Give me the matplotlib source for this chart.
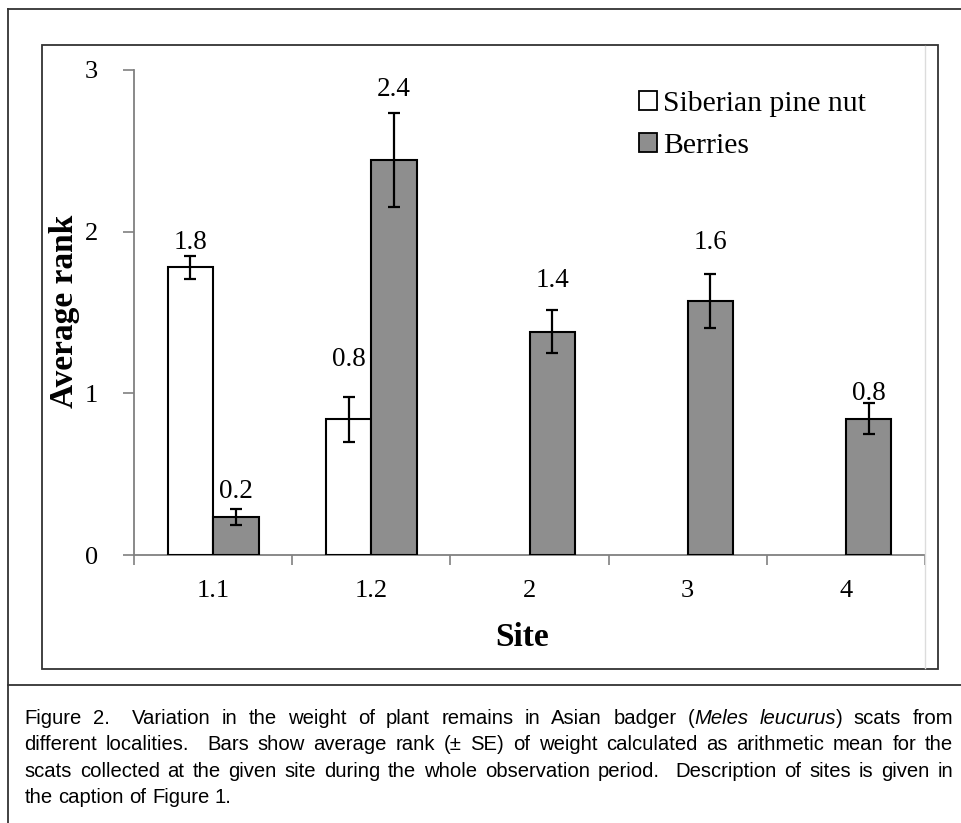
import numpy as np
import matplotlib
matplotlib.use("Agg")
import matplotlib.pyplot as plt
from matplotlib.lines import Line2D
from matplotlib.patches import Rectangle, Patch

# data
sites = ["1.1", "1.2", "2", "3", "4"]
pine_nut = [1.78, 0.84, 0, 0, 0]
pine_nut_se = [0.07, 0.138, 0, 0, 0]
berries = [0.237, 2.443, 1.381, 1.573, 0.843]
berries_se = [0.05, 0.29, 0.132, 0.167, 0.095]
series_names = ["Siberian pine nut", "Berries"]
y_ticks = [0, 1, 2, 3]

caption_lines = [
    "Figure 2.  Variation in the weight of plant remains in Asian badger (*Meles* *leucurus*) scats from",
    "different localities.  Bars show average rank (\u00b1 SE) of weight calculated as arithmetic mean for the",
    "scats collected at the given site during the whole observation period.  Description of sites is given in",
    "the caption of Figure 1.",
]

# where the value labels sit (data units), as placed by hand in the original
pine_label_y = [1.93, 1.21, None, None, None]
berries_label_y = [0.39, 2.88, 1.70, 1.93, 1.00]

W, H = 961, 823
serif = "Liberation Serif"
cap_font = "Liberation Sans"


def fx(x):
    return x / W


def fy(y):
    return 1 - y / H


fig = plt.figure(figsize=(W / 100, H / 100), dpi=100)
fig.patch.set_facecolor("white")

# outer frame, separator and inner chart box
frame_kw = dict(color="#333333", lw=1.3, transform=fig.transFigure)
fig.add_artist(Line2D([fx(8), fx(8)], [fy(9), fy(823)], **frame_kw))
fig.add_artist(Line2D([fx(8), fx(961)], [fy(9), fy(9)], **frame_kw))
fig.add_artist(Line2D([fx(8), fx(961)], [fy(685), fy(685)], **frame_kw))
fig.add_artist(Rectangle((fx(42), fy(669)), fx(938) - fx(42), fy(45) - fy(669),
                         fill=False, ec="#333333", lw=1.3, transform=fig.transFigure))
fig.add_artist(Line2D([fx(925), fx(925)], [fy(46), fy(668)], color="#dcdcdc", lw=1,
                      transform=fig.transFigure))

ax = fig.add_axes([fx(134), fy(555), fx(925) - fx(134), fy(70) - fy(555)])
ax.set_facecolor("none")

x = np.arange(len(sites))
w = 0.2875
gray = "#8e8e8e"
err_kw = dict(ecolor="black", elinewidth=1.6, capsize=4.5, capthick=1.6)

for i in range(len(sites)):
    if pine_nut[i] > 0:
        ax.bar(x[i] - w / 2, pine_nut[i], w, yerr=pine_nut_se[i], color="white",
               edgecolor="black", linewidth=1.5, error_kw=err_kw, zorder=3)
    if berries[i] > 0:
        ax.bar(x[i] + w / 2, berries[i], w, yerr=berries_se[i], color=gray,
               edgecolor="black", linewidth=1.5, error_kw=err_kw, zorder=3)

for i in range(len(sites)):
    if pine_label_y[i] is not None:
        ax.text(x[i] - w / 2, pine_label_y[i], f"{pine_nut[i]:.1f}", ha="center", va="center",
                fontsize=19.5, family=serif, zorder=4)
    if berries_label_y[i] is not None:
        ax.text(x[i] + w / 2, berries_label_y[i], f"{berries[i]:.1f}", ha="center", va="center",
                fontsize=19.5, family=serif, zorder=4)

ax.set_xlim(-0.5, len(sites) - 0.5)
ax.set_ylim(0, 3)
ax.set_yticks(y_ticks)
ax.set_yticklabels([str(t) for t in y_ticks], family=serif, fontsize=19)

# tick marks between categories, labels at the centres
ax.set_xticks(np.arange(len(sites) + 1) - 0.5)
ax.set_xticklabels([])
ax.set_xticks(x, minor=True)
ax.set_xticklabels(sites, minor=True, family=serif, fontsize=19)
ax.tick_params(axis="x", which="major", length=7, width=1.2, color="#808080", direction="out")
ax.tick_params(axis="x", which="minor", length=0, pad=18)
ax.tick_params(axis="y", length=8, width=1.2, color="#808080", direction="out", pad=18)

for s in ["top", "right"]:
    ax.spines[s].set_visible(False)
for s in ["left", "bottom"]:
    ax.spines[s].set_color("#808080")
    ax.spines[s].set_linewidth(1.3)

ax.set_ylabel("Average rank", family=serif, fontsize=24, fontweight="bold", va="center")
ax.yaxis.set_label_coords((64 - 134) / 791, (555 - 311.5) / 485)
ax.set_xlabel("Site", family=serif, fontsize=24, fontweight="bold", va="center")
ax.xaxis.set_label_coords((522 - 134) / 791, (555 - 638) / 485)

handles = [Patch(facecolor="white", edgecolor="black", linewidth=1.3),
           Patch(facecolor=gray, edgecolor="black", linewidth=1.3)]
fig.legend(handles, series_names, loc="upper left", bbox_to_anchor=(fx(639), fy(91)),
           frameon=False, prop={"family": serif, "size": 21.3}, handlelength=0.6,
           handleheight=0.6, handletextpad=0.2, labelspacing=0.55, borderpad=0,
           borderaxespad=0)

# justified caption, placed word by word
renderer = fig.canvas.get_renderer()
cap_size = 14.6


def text_width(s, style):
    t = fig.text(0, 0, s, fontsize=cap_size, family=cap_font, style=style)
    wd = t.get_window_extent(renderer).width
    t.remove()
    return wd


space = text_width("a a", "normal") - text_width("aa", "normal")
x0, x1 = 24.5, 953
for k, line in enumerate(caption_lines):
    tokens = []
    gap = 0
    for word in line.split(" "):
        if word == "":
            gap += 1
            continue
        runs = [(p, "italic" if j % 2 else "normal") for j, p in enumerate(word.split("*")) if p]
        widths = [text_width(p, st) for p, st in runs]
        tokens.append((runs, widths, gap))
        gap = 1
    total = sum(sum(t[1]) for t in tokens)
    gaps = sum(t[2] for t in tokens)
    unit = space if k == len(caption_lines) - 1 else (x1 - x0 - total) / gaps
    base = 724 + 26.3 * k
    cx = x0
    for runs, widths, g in tokens:
        cx += g * unit
        for (p, st), wd in zip(runs, widths):
            fig.text(fx(cx), fy(base), p, fontsize=cap_size, family=cap_font, style=st,
                     va="baseline", ha="left", color="black")
            cx += wd

fig.savefig("out.png", dpi=100)
